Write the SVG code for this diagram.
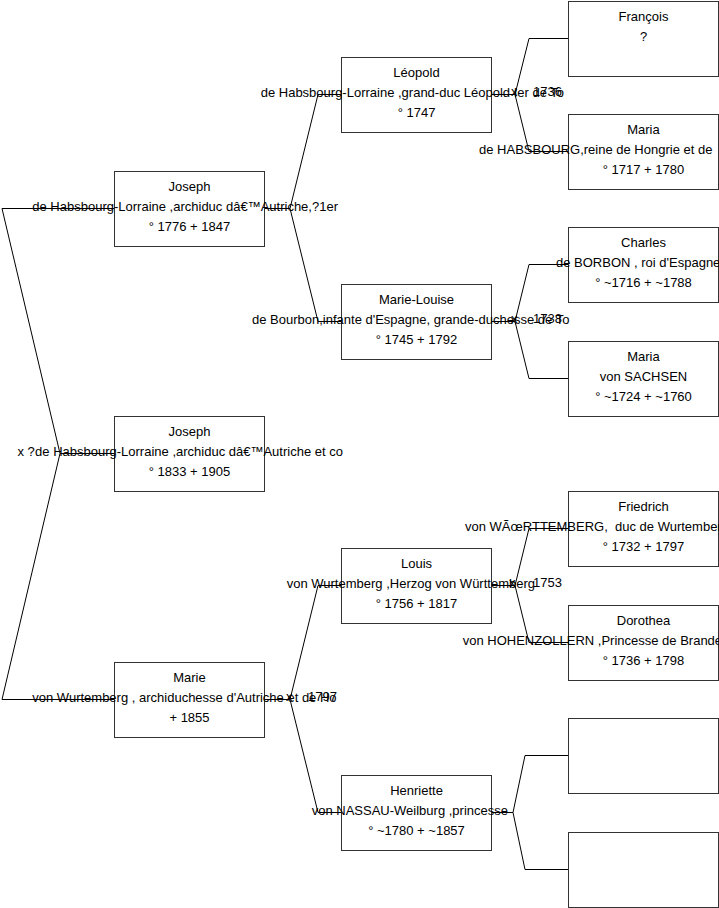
<svg xmlns="http://www.w3.org/2000/svg" width="719" height="908" viewBox="0 0 719 908">
<style>
.box{fill:#fff;stroke:#333;stroke-width:1}
.t{font-family:"Liberation Sans",Arial,sans-serif;font-size:13px;fill:#000}
.m{text-anchor:middle}
.link{fill:none;stroke:#000;stroke-width:1}
</style>
<rect width="719" height="908" fill="#fff"/>
<g id="connectors">
<path class="link" d="M114,208.5 H2 L60,453.5 L2,699.5 H114 M60,453.5 H114"/>
<path class="link" d="M264,208.5 H290 M341,94.5 H318 L290,208.5 L318,321.5 H341"/>
<path class="link" d="M264,699.5 H290 M341,585.5 H318 L290,699.5 L318,812.5 H341"/>
<path class="link" d="M491,94.5 H515 M568,38.5 H529 L515,94.5 L529,151.5 H568"/>
<path class="link" d="M491,321.5 H515 M568,264.5 H529 L515,321.5 L529,378.5 H568"/>
<path class="link" d="M491,585.5 H515 M568,528.5 H529 L515,585.5 L529,642.5 H568"/>
<path class="link" d="M491,812.5 H513 M568,755.5 H525 L513,812.5 L525,869.5 H568"/>
</g>
<g id="joseph1776">
<rect class="box" x="114.5" y="171.5" width="150" height="75"/>
<text class="t m" x="189.5" y="191">Joseph</text>
<text class="t" x="32.3" y="211">de Habsbourg-Lorraine ,archiduc dâ€™Autriche,?1er</text>
<text class="t m" x="189.5" y="231">° 1776 + 1847</text>
</g>
<g id="leopold">
<rect class="box" x="341.5" y="57.5" width="150" height="75"/>
<text class="t m" x="416.5" y="77">Léopold</text>
<text class="t" x="260.7" y="97">de Habsbourg-Lorraine ,grand-duc Léopold Ier de To</text>
<text class="t m" x="416.5" y="117">° 1747</text>
</g>
<g id="francois">
<rect class="box" x="568.5" y="1.5" width="150" height="75"/>
<text class="t m" x="643.5" y="21">François</text>
<text class="t m" x="643.5" y="41">?</text>
</g>
<g id="maria-habsbourg">
<rect class="box" x="568.5" y="114.5" width="150" height="75"/>
<text class="t m" x="643.5" y="134">Maria</text>
<text class="t" x="479" y="154">de HABSBOURG,reine de Hongrie et de</text>
<text class="t m" x="643.5" y="174">° 1717 + 1780</text>
</g>
<g id="marie-louise">
<rect class="box" x="341.5" y="284.5" width="150" height="75"/>
<text class="t m" x="416.5" y="304">Marie-Louise</text>
<text class="t" x="252" y="324">de Bourbon,infante d'Espagne, grande-duchesse de To</text>
<text class="t m" x="416.5" y="344">° 1745 + 1792</text>
</g>
<g id="charles">
<rect class="box" x="568.5" y="227.5" width="150" height="75"/>
<text class="t m" x="643.5" y="247">Charles</text>
<text class="t" x="556" y="267">de BORBON , roi d'Espagne</text>
<text class="t m" x="643.5" y="287">° ~1716 + ~1788</text>
</g>
<g id="maria-sachsen">
<rect class="box" x="568.5" y="341.5" width="150" height="75"/>
<text class="t m" x="643.5" y="361">Maria</text>
<text class="t m" x="643.5" y="381">von SACHSEN</text>
<text class="t m" x="643.5" y="401">° ~1724 + ~1760</text>
</g>
<g id="joseph1833">
<rect class="box" x="114.5" y="416.5" width="150" height="75"/>
<text class="t m" x="189.5" y="436">Joseph</text>
<text class="t m" x="189" y="456">de Habsbourg-Lorraine ,archiduc dâ€™Autriche et co</text>
<text class="t m" x="189.5" y="476">° 1833 + 1905</text>
</g>
<g id="louis">
<rect class="box" x="341.5" y="548.5" width="150" height="75"/>
<text class="t m" x="416.5" y="568">Louis</text>
<text class="t" x="286.7" y="588">von Wurtemberg ,Herzog von Württemberg</text>
<text class="t m" x="416.5" y="608">° 1756 + 1817</text>
</g>
<g id="friedrich">
<rect class="box" x="568.5" y="491.5" width="150" height="75"/>
<text class="t m" x="643.5" y="511">Friedrich</text>
<text class="t" x="465" y="531" xml:space="preserve">von WÃœRTTEMBERG,  duc de Wurtemberg</text>
<text class="t m" x="643.5" y="551">° 1732 + 1797</text>
</g>
<g id="dorothea">
<rect class="box" x="568.5" y="605.5" width="150" height="75"/>
<text class="t m" x="643.5" y="625">Dorothea</text>
<text class="t" x="462.7" y="645">von HOHENZOLLERN ,Princesse de Brandebourg</text>
<text class="t m" x="643.5" y="665">° 1736 + 1798</text>
</g>
<g id="marie">
<rect class="box" x="114.5" y="662.5" width="150" height="75"/>
<text class="t m" x="189.5" y="682">Marie</text>
<text class="t" x="32.3" y="702">von Wurtemberg , archiduchesse d'Autriche et de Ho</text>
<text class="t m" x="189.5" y="722">+ 1855</text>
</g>
<g id="henriette">
<rect class="box" x="341.5" y="775.5" width="150" height="75"/>
<text class="t m" x="416.5" y="795">Henriette</text>
<text class="t" x="311.7" y="815">von NASSAU-Weilburg ,princesse</text>
<text class="t m" x="416.5" y="835">° ~1780 + ~1857</text>
</g>
<g id="unknown1">
<rect class="box" x="568.5" y="718.5" width="150" height="75"/>
</g>
<g id="unknown2">
<rect class="box" x="568.5" y="832.5" width="150" height="75"/>
</g>
<g id="labels">
<text class="t" x="17.5" y="456">x ?</text>
<text class="t" y="96"><tspan x="511">x</tspan><tspan x="533">1736</tspan></text>
<text class="t" y="323"><tspan x="511">x</tspan><tspan x="533">1738</tspan></text>
<text class="t" y="587"><tspan x="509">x</tspan><tspan x="533">1753</tspan></text>
<text class="t" y="701"><tspan x="286">x</tspan><tspan x="308">1797</tspan></text>
</g>
</svg>
